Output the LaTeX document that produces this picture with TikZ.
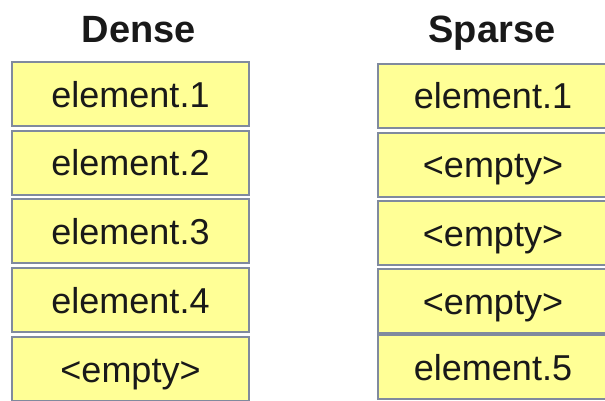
\documentclass[tikz,border=0pt]{standalone}
\usepackage{fontspec}
\setmainfont{Liberation Sans}
\definecolor{boxfill}{RGB}{255,255,150}
\definecolor{boxline}{RGB}{128,138,158}
\begin{document}
\begin{tikzpicture}[x=1pt,y=-1pt,
  cell/.style={draw=boxline, line width=2pt, fill=boxfill, inner sep=0pt,
    minimum width=237pt, minimum height=64pt, text height=26pt, text depth=0pt,
    font=\fontsize{36}{40}\selectfont, text=black!90},
  cellR/.style={cell, minimum width=230pt},
  title/.style={anchor=base, font=\fontsize{38}{42}\selectfont\bfseries, text=black!90}]
\useasboundingbox (0,0) rectangle (605,400);
\fill[white] (0,0) rectangle (605,400);
\node[title] (tD) at (139,42) {Dense};
\node[title] (tS) at (492,42) {Sparse};
% Dense column
\node[cell] (d1) at (130.5,94) {element.1};
\node[cell] (d2) at (130.5,162.5) {element.2};
\node[cell] (d3) at (130.5,231) {element.3};
\node[cell] (d4) at (130.5,300) {element.4};
\node[cell] (d5) at (130.5,369) {<empty>};
% Sparse column
\node[cellR] (s1) at (493,95.5) {element.1};
\node[cellR] (s2) at (493,164.5) {<empty>};
\node[cellR] (s3) at (493,233) {<empty>};
\node[cellR] (s4) at (493,301) {<empty>};
\node[cellR] (s5) at (493,367) {element.5};
\end{tikzpicture}
\end{document}
